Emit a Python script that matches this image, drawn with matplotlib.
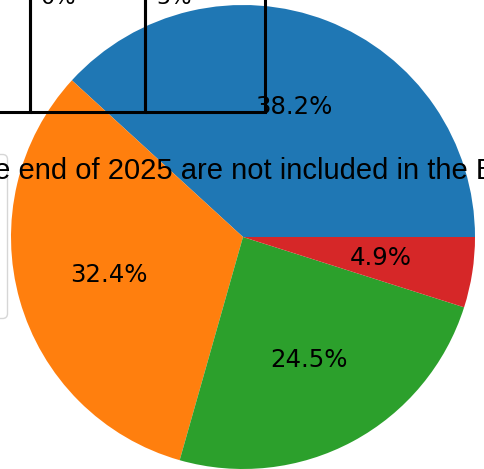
import matplotlib.pyplot as plt

# share of each category
labels = ["Category A", "Category B", "Category C", "Category D"]
shares = [38.2, 32.4, 24.5, 4.9]

# rate table shown above the pie
table_cols = ["Rate", "0%", "5%"]
table_widths = [119.5, 115, 120]

note = "Projects completed after the end of 2025 are not included in the Estimate"

W, H = 485, 469
fig = plt.figure(figsize=(W / 100, H / 100), dpi=100)
ax = fig.add_axes([0, 0, 1, 1])

wedges, texts, autotexts = ax.pie(shares, labels=None, autopct="%1.1f%%",
                                  textprops={"fontsize": 17.6})

# pie centre at (243, 237) px, radius 232 px
r = 232.0
ax.set_aspect("auto")
ax.set_xlim(-243 / r, (W - 243) / r)
ax.set_ylim(-(H - 237) / r, 237 / r)
ax.axis("off")

leg = ax.legend(wedges, labels, loc="center right", fontsize=19,
                borderaxespad=0, bbox_to_anchor=(7 / W, 1 - 236 / H))

tw = sum(table_widths)
tab = ax.table(cellText=[table_cols], colWidths=[w / tw for w in table_widths],
               cellLoc="left",
               bbox=[-90 / W, (H - 112.5) / H, tw / W, 228.5 / H])
tab.auto_set_font_size(False)
tab.set_fontsize(16)
for cell in tab.get_celld().values():
    cell.set_facecolor("none")
    cell.set_linewidth(2.2)
tab.set_zorder(5)

ax.text(-353 / W, 1 - 179 / H, note, transform=ax.transAxes,
        fontsize=21, family="Liberation Sans", ha="left", va="baseline",
        zorder=6)

fig.savefig("out.png", dpi=100)
